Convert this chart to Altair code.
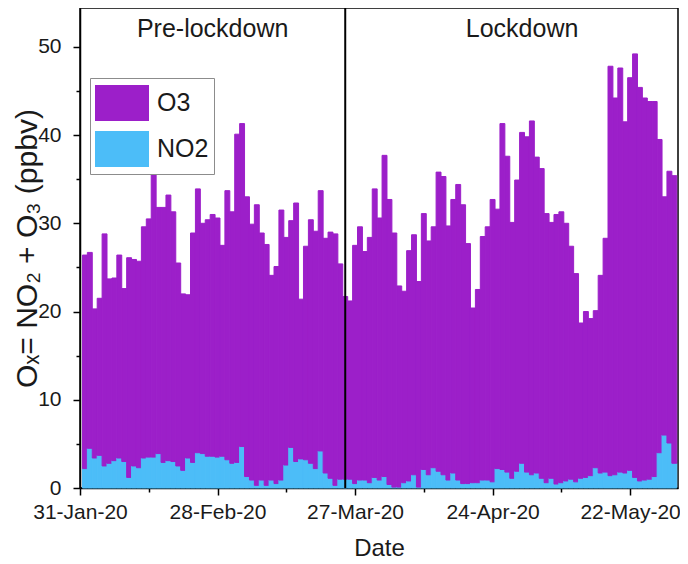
import altair as alt
import pandas as pd

# ---- data ----
dates = pd.date_range("2020-02-01", "2020-05-31", freq="D").strftime("%Y-%m-%d").tolist()

ox_total = [
    26.4, 26.7, 20.3, 21.5, 28.8, 23.7, 23.8, 26.4, 22.6, 26.1,
    25.9, 25.7, 29.6, 30.5, 36.4, 31.8, 31.8, 33.2, 31.3, 25.5,
    22.0, 21.9, 28.9, 33.9, 30.0, 30.4, 31.0, 30.6, 27.5, 33.7,
    31.3, 40.1, 41.3, 33.0, 29.9, 32.1, 28.9, 27.6, 24.1, 25.1,
    31.5, 28.4, 30.3, 32.3, 21.4, 27.4, 30.4, 29.1, 33.7, 28.3,
    29.0, 28.8, 25.4, 21.7, 21.2, 27.5, 29.6, 26.8, 28.4, 33.9,
    30.6, 37.7, 32.7, 28.9, 22.9, 22.3, 26.9, 28.7, 23.4, 31.1,
    28.0, 29.6, 35.8, 35.3, 29.7, 32.7, 34.4, 32.1, 27.7, 20.4,
    22.5, 28.5, 29.6, 32.7, 31.6, 41.3, 37.6, 30.1, 34.9, 40.3,
    39.8, 41.6, 37.5, 36.2, 31.1, 30.1, 31.0, 31.3, 30.0, 27.4,
    24.3, 18.7, 20.0, 19.2, 20.1, 24.1, 28.3, 47.8, 44.2, 47.6,
    41.5, 46.5, 49.2, 45.4, 44.2, 43.8, 43.8, 39.5, 33.0, 35.9,
    35.4,
]

no2 = [
    2.2, 4.5, 3.4, 3.7, 2.5, 2.8, 3.1, 3.4, 3.0, 1.2,
    2.5, 2.3, 3.4, 3.5, 3.5, 3.9, 2.9, 3.1, 3.0, 2.5,
    2.0, 3.4, 2.9, 4.0, 3.9, 3.6, 3.6, 3.5, 3.6, 3.2,
    2.8, 2.9, 4.7, 1.3, 0.9, 0.3, 0.9, 0.3, 0.9, 0.5,
    0.9, 2.6, 4.6, 3.0, 3.3, 3.2, 2.8, 2.2, 4.2, 1.7,
    1.1, 0.3, 1.0, 1.0, 1.0, 0.5, 0.9, 0.9, 0.6, 1.2,
    0.9, 1.3, 0.4, 0.1, 0.1, 0.6, 0.8, 1.5, 0.1, 2.1,
    1.5, 2.3, 1.9, 1.5, 0.9, 1.7, 0.9, 0.5, 0.5, 0.6,
    0.6, 0.9, 0.9, 0.7, 2.2, 2.1, 1.8, 1.1, 1.9, 2.8,
    1.8, 1.5, 1.7, 1.1, 0.6, 1.1, 0.45, 0.6, 0.8, 1.0,
    0.7, 1.1, 1.2, 1.4, 2.3, 1.7, 1.8, 1.4, 1.5, 1.8,
    1.7, 2.0, 1.2, 0.8, 0.9, 1.0, 1.3, 4.0, 6.0, 5.1,
    2.8,
]

species = ["O3", "NO2"]
species_colors = ["#9C1FC9", "#4CBDF8"]

lockdown_date = ["2020-03-25"]
period_labels = ["Pre-lockdown", "Lockdown"]
period_label_dates = ["2020-02-27", "2020-04-30"]
period_label_y = [52, 52]

tick_dates = ["2020-01-31", "2020-02-14", "2020-02-28", "2020-03-13", "2020-03-27",
              "2020-04-10", "2020-04-24", "2020-05-08", "2020-05-22"]
y_ticks = [0, 5, 10, 15, 20, 25, 30, 35, 40, 45, 50]

# ---- build tables ----
rows = []
for d, tot, n in zip(dates, ox_total, no2):
    t = pd.Timestamp(d)
    s = (t - pd.Timedelta(hours=12)).strftime("%Y-%m-%dT%H:%M:%SZ")
    e = (t + pd.Timedelta(hours=12)).strftime("%Y-%m-%dT%H:%M:%SZ")
    rows.append({"start": s, "end": e, "species": "NO2", "lo": 0.0, "hi": n})
    rows.append({"start": s, "end": e, "species": "O3", "lo": n, "hi": tot})
bars_df = pd.DataFrame(rows)

def ms(d):
    return int(pd.Timestamp(d, tz="UTC").value // 10**6)

T0 = ms("2020-01-31")
x_domain = [T0, ms("2020-05-31T18:00")]
tick_values = [ms(d) for d in tick_dates]

FONT = "Liberation Sans"
TXT = "#1a1a1a"

xscale = alt.Scale(type="utc", domain=x_domain, nice=False)
yscale = alt.Scale(domain=[0, 54.4], nice=False, zero=True)
cscale = alt.Scale(domain=species, range=species_colors)

major_x = f"(round((datum.value - {T0}) / 86400000) % 28 == 0)"

x_axis = alt.Axis(
    values=tick_values,
    labelExpr=f"{major_x} ? utcFormat(datum.value, '%d-%b-%y') : ''",
    tickSize={"condition": {"test": major_x, "value": 7}, "value": 4},
    title="Date", titleFontSize=24, titleFont=FONT, titleFontWeight="normal",
    titleColor=TXT, titlePadding=14,
    labelFontSize=21, labelFont=FONT, labelColor=TXT, labelPadding=6,
    labelOverlap=False, labelFlush=False,
    domainColor="black", domainWidth=1.5, tickColor="black", tickWidth=1.5,
    grid=False,
)
y_axis = alt.Axis(
    values=y_ticks,
    labelExpr="datum.value % 10 == 0 ? datum.label : ''",
    tickSize={"condition": {"test": "datum.value % 10 == 0", "value": 7}, "value": 4},
    title="Oₓ= NO₂ + O₃ (ppbv)", titleFontSize=30, titleFont=FONT,
    titleFontWeight="normal", titleColor=TXT, titlePadding=-5,
    labelFontSize=21, labelFont=FONT, labelColor=TXT, labelPadding=12,
    labelOverlap=False,
    domainColor="black", domainWidth=1.5, tickColor="black", tickWidth=1.5,
    grid=False,
)

bars = alt.Chart(bars_df).mark_rect(strokeWidth=1.0).encode(
    x=alt.X("start:T", scale=xscale, axis=x_axis),
    x2="end:T",
    y=alt.Y("lo:Q", scale=yscale, axis=y_axis),
    y2="hi:Q",
    color=alt.Color("species:N", scale=cscale, legend=alt.Legend(
        title=None, orient="none", legendX=10, legendY=70,
        symbolType="M-1,-0.667H1V0.667H-1Z", symbolSize=2916,
        symbolStrokeWidth=0, symbolOpacity=1,
        labelFontSize=25, labelFont=FONT, labelColor=TXT, labelOffset=8,
        strokeColor="#8c8c8c", fillColor="white", padding=5,
        rowPadding=6, clipHeight=40,
    )),
    stroke=alt.Stroke("species:N", scale=cscale, legend=None),
)

rule_df = pd.DataFrame({"date": lockdown_date})
rule = alt.Chart(rule_df).mark_rule(color="black", strokeWidth=2).encode(
    x=alt.X("date:T", scale=xscale, axis=x_axis),
)

label_df = pd.DataFrame({"date": period_label_dates, "y": period_label_y, "label": period_labels})
labels = alt.Chart(label_df).mark_text(fontSize=25, font=FONT, color=TXT).encode(
    x=alt.X("date:T", scale=xscale, axis=x_axis),
    y=alt.Y("y:Q", scale=yscale, axis=y_axis),
    text="label:N",
)

chart = alt.layer(bars, rule, labels).properties(
    width=598, height=480,
    autosize=alt.AutoSizeParams(type="none"),
    padding={"left": 72, "top": 0, "right": 2, "bottom": 75},
    background="white",
).configure_view(stroke="black", strokeWidth=1.5)

chart.save("out.html", embed_options={"renderer": "svg", "actions": False})
